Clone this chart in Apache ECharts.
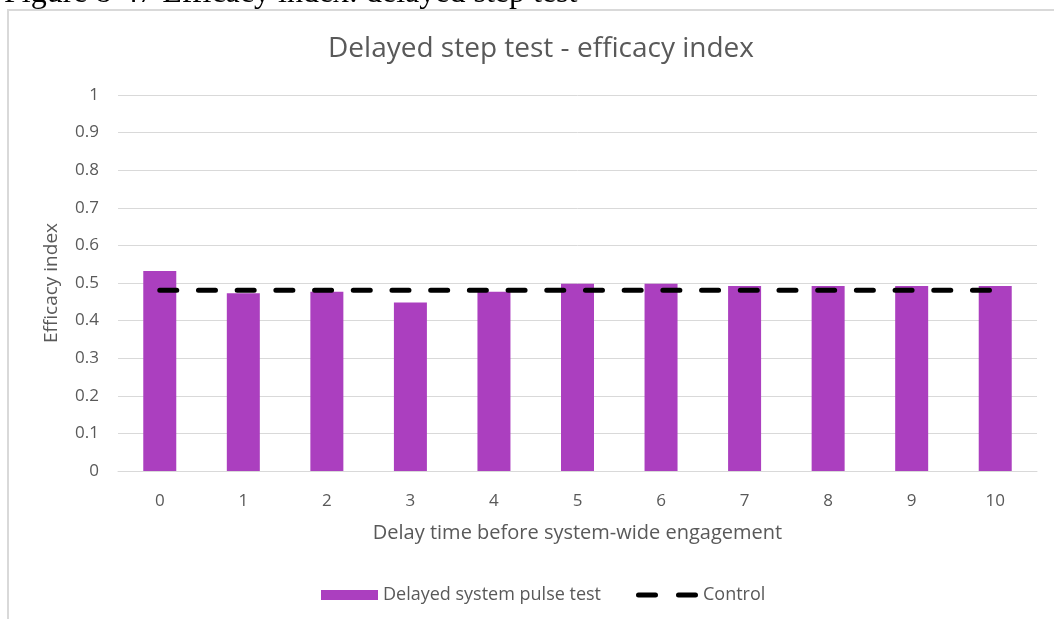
<!DOCTYPE html>
<html>
<head>
<meta charset="utf-8">
<script src="https://cdn.jsdelivr.net/npm/echarts@6/dist/echarts.min.js"></script>
<style>
  html, body { margin: 0; padding: 0; background: #ffffff; }
  #chart { width: 1054px; height: 619px; }
</style>
</head>
<body>
<div id="chart"></div>
<script>
// Delay times (x categories)
const delays = ['0', '1', '2', '3', '4', '5', '6', '7', '8', '9', '10'];
// Efficacy index for the delayed system pulse test
const pulseTest = [0.532, 0.473, 0.477, 0.448, 0.477, 0.498, 0.498, 0.492, 0.492, 0.492, 0.492];
// Control efficacy index (constant reference)
const controlValue = 0.481;
const control = delays.map(() => controlValue);

const textColor = '#595959';
const gridColor = '#d9d9d9';
const font = 'Open Sans';

// Two rounded dashes for the control legend key
const dashIcon = 'path://M2.5,0 H19.5 A2.5,2.5 0 0 1 19.5,5 H2.5 A2.5,2.5 0 0 1 2.5,0 Z ' +
                 'M42.5,0 H59.5 A2.5,2.5 0 0 1 59.5,5 H42.5 A2.5,2.5 0 0 1 42.5,0 Z';

const chart = echarts.init(document.getElementById('chart'), null, { renderer: 'canvas' });

chart.setOption({
  backgroundColor: '#ffffff',
  animation: false,
  graphic: [
    {
      type: 'rect',
      shape: { x: 8, y: 10, width: 1200, height: 800 },
      style: { fill: 'none', stroke: gridColor, lineWidth: 2 },
      silent: true
    },
    {
      type: 'text',
      x: 4,
      y: -22,
      style: {
        text: 'Figure 8-47 Efficacy index: delayed step test',
        font: '32px "Liberation Serif"',
        fill: '#000000'
      },
      silent: true
    }
  ],
  title: {
    text: 'Delayed step test - efficacy index',
    left: 536,
    top: 30,
    textAlign: 'center',
    textStyle: { color: textColor, fontFamily: font, fontSize: 28, fontWeight: 'normal' }
  },
  legend: [
    {
      data: ['Delayed system pulse test'],
      left: 316,
      top: 581,
      itemWidth: 57,
      itemHeight: 10,
      icon: 'rect',
      textStyle: { color: textColor, fontFamily: font, fontSize: 18 }
    },
    {
      data: [{ name: 'Control', icon: dashIcon }],
      left: 631,
      top: 581,
      itemWidth: 62,
      itemHeight: 5,
      itemStyle: { color: '#000000', borderWidth: 0 },
      lineStyle: { width: 0 },
      textStyle: { color: textColor, fontFamily: font, fontSize: 18 }
    }
  ],
  grid: { left: 118, right: 17, top: 95, bottom: 148, containLabel: false },
  xAxis: {
    type: 'category',
    data: delays,
    boundaryGap: true,
    name: 'Delay time before system-wide engagement',
    nameLocation: 'middle',
    nameGap: 52,
    nameTextStyle: { color: textColor, fontFamily: font, fontSize: 20 },
    axisLine: { show: true, lineStyle: { color: gridColor, width: 1 } },
    axisTick: { show: false },
    axisLabel: { color: textColor, fontFamily: font, fontSize: 17, margin: 22 }
  },
  yAxis: {
    type: 'value',
    min: 0,
    max: 1,
    interval: 0.1,
    name: 'Efficacy index',
    nameLocation: 'middle',
    nameGap: 57,
    nameTextStyle: { color: textColor, fontFamily: font, fontSize: 19 },
    axisLine: { show: false },
    axisTick: { show: false },
    axisLabel: { color: textColor, fontFamily: font, fontSize: 17, margin: 19 },
    splitLine: { lineStyle: { color: gridColor, width: 1 } }
  },
  series: [
    {
      name: 'Delayed system pulse test',
      type: 'bar',
      data: pulseTest,
      barWidth: 33,
      itemStyle: { color: '#ab3fbf' }
    },
    {
      name: 'Control',
      type: 'line',
      data: control,
      symbol: 'none',
      itemStyle: { color: '#000000' },
      lineStyle: { color: '#000000', width: 5, type: [17, 21.7], cap: 'round' },
      z: 3
    }
  ]
});
</script>
</body>
</html>
